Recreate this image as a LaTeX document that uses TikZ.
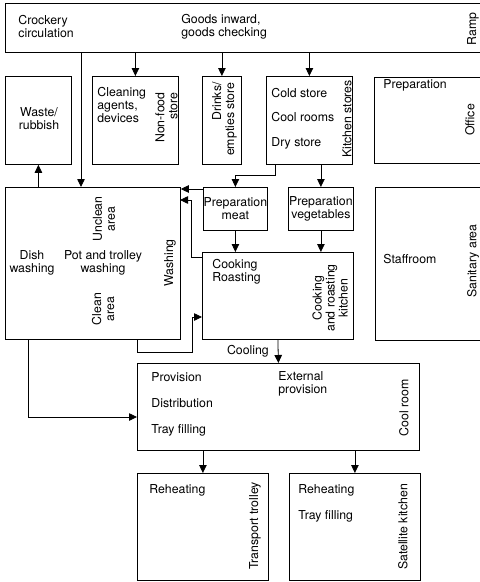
\documentclass[tikz,border=0pt]{standalone}
\usepackage{fontspec}
\setmainfont{TeX Gyre Heros}
\usetikzlibrary{arrows.meta}

\begin{document}
\begin{tikzpicture}[
      x=1pt, y=-1pt,
      >={Triangle[length=8pt,width=7.5pt]},
      every path/.style={line width=0.8pt},
      room/.style={draw,inner sep=0pt,anchor=north west},
      txt/.style={inner sep=0pt,font=\fontsize{12.3}{13}\selectfont},
      vtxt/.style={txt,rotate=90},
    ]
    \useasboundingbox (0,0) rectangle (480,582);

    % Delivery strip
    \node[room, minimum width=477, minimum height=49] (goods) at (5,3) {};
    \node[txt, anchor=west, align=left] (tcrock) at (18,26.5) {Crockery\\circulation};
    \node[txt, anchor=west, align=left] (tgoods) at (181,26.5) {Goods inward,\\goods checking};
    \node[vtxt] (tramp) at (473,29) {Ramp};

    % Stores row
    \node[room, minimum width=66, minimum height=88] (waste) at (5,76) {};
    \node[txt, align=center] (twaste) at (39,119) {Waste/\\rubbish};

    \node[room, minimum width=86, minimum height=88] (nonfood) at (92,76) {};
    \node[txt, anchor=west, align=left] (tclean) at (97,104.5) {Cleaning\\agents,\\devices};
    \node[vtxt, anchor=east, align=right] (tnonfood) at (166.5,92) {Non-food\\store};

    \node[room, minimum width=39, minimum height=88] (drinks) at (202,76) {};
    \node[vtxt, anchor=east, align=right] (tdrinks) at (224.5,82) {Drinks/\\empties store};

    \node[room, minimum width=86, minimum height=88] (kstores) at (266,76) {};
    \node[txt, anchor=west] (tcold) at (271,93) {Cold store};
    \node[txt, anchor=west] (tcoolr) at (271,117) {Cool rooms};
    \node[txt, anchor=west] (tdry) at (271,143) {Dry store};
    \node[vtxt] (tkstores) at (347,119) {Kitchen stores};

    \node[room, minimum width=108, minimum height=86] (office) at (374,77) {};
    \node[txt, anchor=west] (tprep) at (383,85) {Preparation};
    \node[vtxt] (toffice) at (470,120) {Office};

    % Washing
    \node[room, minimum width=175, minimum height=152] (washing) at (5,187) {};
    \node[vtxt, align=center] (tunclean) at (104,219) {Unclean\\area};
    \node[txt, align=center] (tdish) at (32,263) {Dish\\washing};
    \node[txt, align=center] (tpot) at (103,263) {Pot and trolley\\washing};
    \node[vtxt, align=center] (tcleanarea) at (103,309) {Clean\\area};
    \node[vtxt] (twashing) at (170,263) {Washing};

    % Preparation and kitchen
    \node[room, minimum width=64, minimum height=43] (prepmeat) at (203,187) {};
    \node[txt, align=center] (tmeat) at (prepmeat.center) {Preparation\\meat};
    \node[room, minimum width=65, minimum height=43] (prepveg) at (288,187) {};
    \node[txt, align=center] (tveg) at (prepveg.center) {Preparation\\vegetables};

    \node[room, minimum width=151, minimum height=87] (cooking) at (202,252) {};
    \node[txt, anchor=west, align=left] (tcook) at (212,271.5) {Cooking\\Roasting};
    \node[vtxt, align=center] (tkitchen) at (330,298) {Cooking\\and roasting\\kitchen};

    \node[room, minimum width=107, minimum height=153] (staff) at (375,187) {};
    \node[txt, anchor=west] (tstaff) at (383,259) {Staffroom};
    \node[vtxt] (tsanitary) at (473,261) {Sanitary area};

    % Cool room
    \node[room, minimum width=282, minimum height=87] (coolroom) at (137,363) {};
    \node[txt, anchor=west] (tprov) at (151,377) {Provision};
    \node[txt, anchor=west] (tdistr) at (151,403) {Distribution};
    \node[txt, anchor=west] (ttray) at (151,430) {Tray filling};
    \node[txt, anchor=west, align=left] (text) at (278,384) {External\\provision};
    \node[vtxt] (tcoolroom) at (404,408) {Cool room};

    % Reheating
    \node[room, minimum width=131, minimum height=107] (trolley) at (137,473) {};
    \node[txt, anchor=west] (treheat) at (149,490) {Reheating};
    \node[vtxt] (ttrolley) at (255,526) {Transport trolley};

    \node[room, minimum width=131, minimum height=107] (satellite) at (289,473) {};
    \node[txt, anchor=west] (treheatb) at (298,490) {Reheating};
    \node[txt, anchor=west] (ttrayb) at (298,516) {Tray filling};
    \node[vtxt] (tsatellite) at (403,527) {Satellite kitchen};

    % Flows
    \coordinate (crock) at (81,52);
    \draw[->] (crock) -- (crock |- washing.north);
    \foreach \s in {nonfood,drinks,kstores}
      \draw[->] (goods.south -| \s.north) -- (\s.north);
    \draw[->] (waste.south |- washing.north) -- (waste.south);

    \coordinate (ksout) at (275,164);
    \draw[->] (ksout) -- ++(0,11) -| (prepmeat.north);
    \draw[->] (prepveg.north |- kstores.south) -- (prepveg.north);
    \draw[->] (prepmeat.south) -- (prepmeat.south |- cooking.north);
    \draw[->] (prepveg.south) -- (prepveg.south |- cooking.north);

    \coordinate (meatret) at (203,189);
    \draw[->] (meatret) -- (meatret -| washing.east);
    \coordinate (cookret) at (202,257);
    \coordinate (washin) at (180,200);
    \draw[->] (cookret) -- ++(-11,0) |- (washin);
    \coordinate (cleanout) at (137,339);
    \coordinate (cookin) at (202,317);
    \draw[->] (cleanout) |- ++(55,13) |- (cookin);

    \coordinate (dishout) at (28,339);
    \coordinate (coolin) at (137,417);
    \draw[->] (dishout) |- (coolin);
    \draw[->] (cooking.south) -- node[txt, left=9pt] (tcooling) {Cooling} (coolroom.north);

    \foreach \s in {trolley,satellite}
      \draw[->] (coolroom.south -| \s.north) -- (\s.north);
\end{tikzpicture}
\end{document}
